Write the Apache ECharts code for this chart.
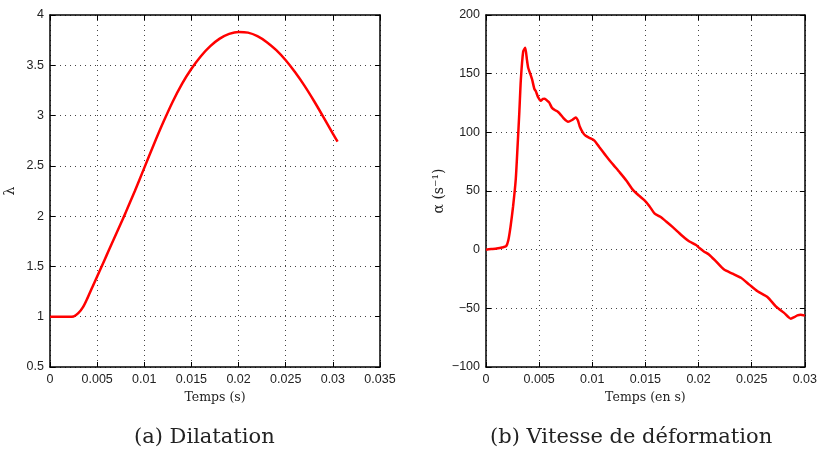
<!DOCTYPE html>
<html>
<head>
<meta charset="utf-8">
<script src="https://cdn.jsdelivr.net/npm/echarts@6/dist/echarts.min.js"></script>
<style>html,body{margin:0;padding:0;background:#fff}#c{width:820px;height:453px}</style>
</head>
<body>
<div id="c"></div>
<script>
// (a) Dilatation : lambda vs time (s)
const dilTime = [0, 0.001, 0.002, 0.0025, 0.003, 0.0035, 0.004, 0.0045, 0.005, 0.0055, 0.006, 0.0065, 0.007, 0.0075, 0.008, 0.0085, 0.009, 0.0095, 0.010, 0.011, 0.012, 0.013, 0.014, 0.015, 0.016, 0.017, 0.018, 0.019, 0.020, 0.021, 0.022, 0.023, 0.024, 0.025, 0.026, 0.027, 0.028, 0.029, 0.030, 0.0305];
const dilLambda = [1.0, 1.0, 1.0, 1.003, 1.035, 1.095, 1.19, 1.295, 1.40, 1.505, 1.61, 1.715, 1.82, 1.925, 2.03, 2.14, 2.25, 2.365, 2.48, 2.71, 2.93, 3.135, 3.315, 3.465, 3.59, 3.69, 3.765, 3.812, 3.832, 3.825, 3.79, 3.73, 3.65, 3.55, 3.43, 3.295, 3.145, 2.985, 2.82, 2.74];

// (b) Vitesse de déformation : alpha (s^-1) vs time (s)
const velTime = [0, 0.0005, 0.001, 0.0015, 0.0019, 0.0021, 0.0023, 0.00255, 0.0028, 0.00297, 0.00313, 0.00328, 0.0035, 0.00369, 0.00385, 0.00397, 0.0042, 0.00434, 0.00455, 0.00469, 0.0049, 0.00516, 0.00535, 0.00553, 0.00575, 0.00594, 0.0062, 0.00647, 0.0067, 0.00694, 0.0073, 0.00772, 0.0081, 0.00844, 0.00865, 0.00882, 0.0091, 0.00938, 0.0098, 0.0102, 0.01069, 0.0112, 0.01163, 0.0121, 0.01257, 0.0132, 0.01382, 0.0144, 0.01492, 0.01538, 0.01585, 0.0164, 0.01695, 0.0176, 0.0182, 0.0187, 0.01914, 0.01977, 0.02008, 0.0205, 0.0210, 0.02164, 0.0224, 0.0232, 0.02399, 0.02477, 0.02555, 0.02648, 0.02727, 0.02805, 0.02868, 0.0290, 0.0293, 0.0296, 0.0300];
const velAlpha = [0, 0.5, 1, 1.8, 3, 8, 19, 37, 60, 88, 116, 145, 169, 172, 162, 155, 149, 145, 137, 135, 130, 127, 128.5, 128.6, 127, 125.5, 121, 119, 118, 116, 112, 109, 110.5, 112.7, 110, 105, 100, 97, 95, 93, 87, 81, 76, 71, 66, 59, 51, 46, 42, 37, 31, 28, 24, 19, 14, 10, 7, 4, 1.4, -1.5, -4.3, -10, -17, -20.4, -24, -29.8, -35.5, -40.3, -48.3, -53.9, -58.8, -57.5, -56, -55.4, -56.2];

const xTicksA = {min: 0, max: 0.035, interval: 0.005};
const yTicksA = {min: 0.5, max: 4, interval: 0.5};
const xTicksB = {min: 0, max: 0.03, interval: 0.005};
const yTicksB = {min: -100, max: 200, interval: 50};

const captionA = '(a) Dilatation';
const captionB = '(b) Vitesse de déformation';

const sansFont = '"Liberation Sans", Arial, sans-serif';
const serifFont = '"DejaVu Serif", serif';
const axisLine = {show: true, onZero: false, lineStyle: {color: '#000', width: 1.5}};
const tick = {show: true, inside: true, length: 5, lineStyle: {color: '#000', width: 1}};
const split = {show: true, lineStyle: {color: '#444', type: [1, 4], width: 1}};
const fmt = v => String(+v.toFixed(4)).replace('-', '\u2212');

function mainX(g, t, name) {
  return Object.assign({gridIndex: g, type: 'value', position: 'bottom', axisLine, axisTick: tick, splitLine: split,
    axisLabel: {color: '#222', fontSize: 12.5, fontFamily: sansFont, margin: 6, formatter: fmt},
    name, nameLocation: 'middle', nameGap: 23, nameTextStyle: {fontFamily: serifFont, fontSize: 12.5, color: '#222'}}, t);
}
function sideX(g, t) {
  return Object.assign({gridIndex: g, type: 'value', position: 'top', axisLine, axisTick: tick, splitLine: {show: false}, axisLabel: {show: false}}, t);
}
function mainY(g, t, name, gap) {
  return Object.assign({gridIndex: g, type: 'value', position: 'left', axisLine, axisTick: tick, splitLine: split,
    axisLabel: {color: '#222', fontSize: 12.5, fontFamily: sansFont, margin: 6, formatter: fmt},
    name, nameLocation: 'middle', nameGap: gap, nameRotate: 90, nameTextStyle: {fontFamily: serifFont, fontSize: 14, color: '#222'}}, t);
}
function sideY(g, t) {
  return Object.assign({gridIndex: g, type: 'value', position: 'right', axisLine, axisTick: tick, splitLine: {show: false}, axisLabel: {show: false}}, t);
}

const chart = echarts.init(document.getElementById('c'), null, {renderer: 'canvas'});
chart.setOption({
  animation: false,
  backgroundColor: '#fff',
  grid: [
    {left: 50, top: 15, width: 330, height: 352},
    {left: 486, top: 15, width: 320, height: 352}
  ],
  xAxis: [mainX(0, xTicksA, 'Temps (s)'), sideX(0, xTicksA), mainX(1, xTicksB, 'Temps (en s)'), sideX(1, xTicksB)],
  yAxis: [mainY(0, yTicksA, 'λ', 33), sideY(0, yTicksA), mainY(1, yTicksB, 'α (s⁻¹)', 40), sideY(1, yTicksB)],
  series: [
    {type: 'line', xAxisIndex: 0, yAxisIndex: 0, showSymbol: false, smooth: 0.3,
     lineStyle: {color: '#ff0000', width: 2.5}, data: dilTime.map((t, i) => [t, dilLambda[i]])},
    {type: 'line', xAxisIndex: 2, yAxisIndex: 2, showSymbol: false, smooth: 0.2,
     lineStyle: {color: '#ff0000', width: 2.5}, data: velTime.map((t, i) => [t, velAlpha[i]])}
  ],
  graphic: [
    {type: 'text', left: 134, top: 427, style: {text: captionA, font: '21px ' + serifFont, fill: '#222'}},
    {type: 'text', left: 490, top: 427, style: {text: captionB, font: '21px ' + serifFont, fill: '#222'}}
  ]
});
</script>
</body>
</html>
